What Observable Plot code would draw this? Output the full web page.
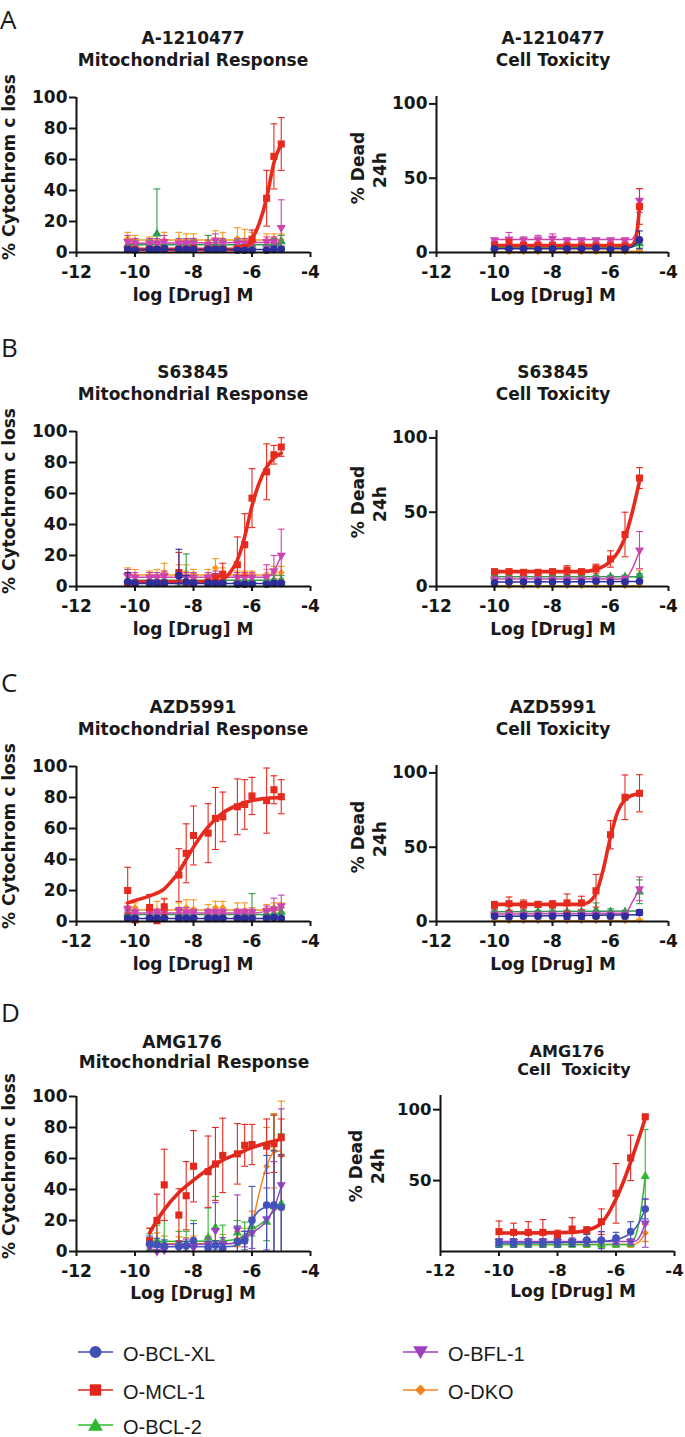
<!DOCTYPE html>
<html><head><meta charset="utf-8">
<script src="https://cdn.jsdelivr.net/npm/d3@7"></script>
<script src="https://cdn.jsdelivr.net/npm/@observablehq/plot@0.6"></script>
<style>
body{margin:0;background:#fff;}
#page{position:relative;width:685px;height:1437px;overflow:hidden;background:#fff;}
#page svg{position:absolute;}
</style></head><body><div id="page"></div>
<script>
// ---------- series & categories ----------
const seriesNames = ["O-BCL-XL","O-MCL-1","O-BCL-2","O-BFL-1","O-DKO"];
const colorsABC = ["#2d2d9c","#e62a1e","#2f9b50","#cc44b0","#f59a1e"];
const colorsD   = ["#4352b8","#e2271c","#2fba2f","#9b42c6","#f5861a"];
const legendColors = ["#4250b0","#e0261c","#30b830","#9c40c0","#f5841c"];
const xTicks = [-12,-10,-8,-6,-4];
const yTicksMito = [0,20,40,60,80,100];
const yTicksTox = [0,50,100];
const yTicksToxD = [50,100];

// log10 concentrations
const concMito  = [-10.25,-10,-9.5,-9.25,-9,-8.5,-8.25,-8,-7.5,-7.25,-7,-6.5,-6.25,-6,-5.5,-5.25,-5];
const concTox   = [-10,-9.5,-9,-8.5,-8,-7.5,-7,-6.5,-6,-5.5,-5];
const concMitoD = [-9.5,-9.25,-9,-8.5,-8.25,-8,-7.5,-7.25,-7,-6.5,-6.25,-6,-5.5,-5.25,-5];

// ---------- A-1210477 : mitochondrial response (order: BCL-XL, MCL-1, BCL-2, BFL-1, DKO) ----------
const A_mito_mean = [
  [2,1.5,2,2,2.5,2,2,2,2,2,2,1.5,1.5,1.5,1.5,2,2],
  [2,2,2,2,2,2,2,2.5,2,2,2,2.5,3,8.5,35,62,70],
  [5,6,5,12,5,4,6,5,5,5,5,5,4,5,5,6,7],
  [7,6,6,6,7,6,6,6,5,8,6,6,6,6,7,7,16],
  [9,8,7,7,8,8,7,8,7,8,8,9,8,7,8,9,8]];
const A_mito_sd = [
  [1,1,1,1,1,1,1,1,1,1,1,1,1,1,1,2,2],
  [1.5,1.5,1.5,1.5,1.5,1.5,1.5,1.5,1.5,1.5,1.5,1.5,2,6,18,21,17],
  [3,3,3,29,3,3,3,3,6,3,3,3,3,3,3,3,4],
  [4,3,3,3,4,3,3,3,3,4,3,3,3,3,3,3,18],
  [4,3,3,5,5,5,5,4,4,6,5,7,7,6,4,3,4]];
const A_mito_fit = [
  [[-10.25,2],[-5,2]],
  [[-10.25,2],[-6.5,2],[-6.25,3],[-6,8.5],[-5.75,19],[-5.5,35],[-5.25,58],[-5,70]],
  [[-10.25,5],[-5,5]],
  [[-10.25,6],[-5,6.5]],
  [[-10.25,8],[-5,8]]];

// ---------- A-1210477 : cell toxicity ----------
const A_tox_mean = [
  [2.5,2.5,2.5,2,2.5,2.5,2.5,3,2,2.5,8.5],
  [5,6.5,5,5,5,4.5,4.5,4.5,4.5,4.5,31],
  [3.5,3.5,3.5,3.5,3.5,3.5,3.5,4.5,3.5,3.5,6],
  [8.5,9,8.5,9,9.5,8.5,8.5,8.5,8.5,8.5,35],
  [0.5,0.5,0.5,0.5,0.5,0.5,0.5,0.5,0.5,0.5,1]];
const A_tox_sd = [
  [0.5,0.5,0.5,0.5,0.5,0.5,0.5,1,0.5,0.5,6],
  [1,2.5,1,1,1,1,1,1,1,1,12],
  [0.5,0.5,0.5,0.5,0.5,0.5,0.5,1,0.5,0.5,3],
  [1,4.5,2,2.5,3,1,1,1,1,1,8],
  [0.3,0.3,0.3,0.3,0.3,0.3,0.3,0.3,0.3,0.3,0.5]];
const A_tox_fit = [
  [[-10,2.5],[-5.5,2.6],[-5.25,4],[-5,8.5]],
  [[-10,4.7],[-5.3,4.7],[-5.15,8],[-5.07,16],[-5,31]],
  [[-10,3.5],[-5.3,3.5],[-5,6]],
  [[-10,8.7],[-5.3,8.7],[-5.15,12],[-5.07,20],[-5,35]],
  [[-10,0.5],[-5,0.8]]];

// ---------- S63845 : mitochondrial response ----------
const B_mito_mean = [
  [3,2,2,2,2,7,3,2,2,2,2,1.5,1.5,1.5,1.5,2,2],
  [2,2,2,2,2,9,2,2,3,5,8,14,27,57,74,85,90],
  [4,4,4,4,4,4,3,4,4,4,4,4,4,4,4,4,4],
  [7,6,6,6,7,6,6,6,6,7,6,6,6,6,6,10,20],
  [8,7,7,7,9,8,9,8,7,12,8,7,8,8,8,9,9]];
const B_mito_sd = [
  [6,2,2,2,2,17,4,2,2,1,1,1,1,1,1,1,1],
  [1,1,1,1,1,13,1,1,1,3,7,18,20,19,18,6,6],
  [3,3,2,2,3,3,18,3,3,3,3,3,3,3,3,3,3],
  [4,3,3,3,3,3,3,3,3,3,3,3,3,3,8,10,17],
  [4,4,3,4,6,6,5,3,4,6,4,3,2,2,3,4,4]];
const B_mito_fit = [
  [[-10.25,2],[-5,2]],
  [[-10.25,3],[-7.25,3],[-7,4.5],[-6.75,9],[-6.5,17],[-6.25,32],[-6,52],[-5.75,67],[-5.5,77],[-5.25,83],[-5,86]],
  [[-10.25,4],[-5,4]],
  [[-10.25,6],[-5.5,6],[-5.25,10],[-5,20]],
  [[-10.25,7.5],[-5,7.5]]];

// ---------- S63845 : cell toxicity ----------
const B_tox_mean = [
  [2.5,3,3,3,3,3,3,3.5,3,3,3.5],
  [10,10,9.5,9.5,10,11,10,12,18.5,35,73],
  [6.5,6.5,6.5,6.5,6.5,6.5,6.5,6.5,6.5,6.5,7.5],
  [5,5,5,5,5,5,5,5,5,5.5,24.5],
  [0.5,0.5,0.5,0.5,0.5,0.5,0.5,1,0.5,0.5,1]];
const B_tox_sd = [
  [1,1,1,1,1,1,1,1,1,1,1],
  [1,1,1,1,1,3,1,3,5.5,15,7],
  [1,1,1,1,1,1,1,1,1,1,1],
  [1,1,1,1,1,1,1,1,1,1,12.5],
  [0.3,0.3,0.3,0.3,0.3,0.3,0.3,12,0.3,0.3,10]];
const B_tox_fit = [
  [[-10,3],[-5,3.3]],
  [[-10,10],[-7,10],[-6.5,11.5],[-6,17],[-5.75,23],[-5.5,33],[-5.25,50],[-5,71]],
  [[-10,6.5],[-5,6.5]],
  [[-10,5],[-5.6,5],[-5.4,7],[-5.2,14],[-5,24]],
  [[-10,0.5],[-5,0.5]]];

// ---------- AZD5991 : mitochondrial response ----------
const C_mito_mean = [
  [2,2,2,2,2,2,2,2,2,2,2,2,2,2,2,2.5,2],
  [20,1,9,0.5,9.5,30,44,55.5,57,66.5,67.5,74,75.5,81,78,85,80.5],
  [5,4,4,4,4,5,4,4,4,5,4,4,5,5,5,5,6],
  [8,6,6,6,6,7,6,6,6,6,6,6,6,6,7,8,10],
  [9,9,7,7,10,8,9,8,7,9,9,7,7,6,8,9,9]];
const C_mito_sd = [
  [1,1,1,1,1,1,1,1,1,1,1,1,1,1,1,1,1],
  [15,1,8.5,1,5,17,19,19,19,20,16,18,16,12,21,9,11],
  [2,2,2,2,2,2,2,2,2,2,2,2,2,13,2,3,3],
  [2,2,2,2,3,2,3,2,2,2,2,2,2,2,3,7,7],
  [3,3,4,6,5,4,5,6,4,4,4,5,5,3,3,3,3]];
const C_mito_fit = [
  [[-10.25,2],[-5,2]],
  [[-10.25,12],[-10,13.5],[-9.5,16.5],[-9,21],[-8.75,26],[-8.5,32],[-8.25,40],[-8,48],[-7.75,55],[-7.5,61],[-7.25,66],[-7,70],[-6.5,75],[-6,78],[-5.5,79.5],[-5,80]],
  [[-10.25,4.5],[-5,4.5]],
  [[-10.25,5.5],[-6,5.5],[-5.5,6.5],[-5,8]],
  [[-10.25,7.5],[-5,7.5]]];

// ---------- AZD5991 : cell toxicity ----------
const C_tox_mean = [
  [3.5,3,3.5,3.5,3.5,3.5,3.5,3.5,3.5,3.5,6],
  [11,12,11.5,11.5,11.5,12.5,12.5,20.7,58.4,83.6,86.3],
  [6.5,6.5,6.5,6.5,6.5,6.5,6.5,7.5,6.5,6.5,20],
  [5,5,5,5,5,5,5,5,5,5,22],
  [0.5,0.5,0.5,0.5,0.5,0.5,0.5,0.5,0.5,0.5,1]];
const C_tox_sd = [
  [1,1,1,1,1,2,2,1,1,1,2],
  [2.5,4.5,3,2,2.5,6,4.5,11,9.5,15,12.5],
  [1,1,1,1,1,1,1,5,2,1,8],
  [1,1,1,1,1,1,1,1,1,1,8],
  [0.5,0.5,0.5,0.5,0.5,0.5,0.5,0.5,0.5,0.5,0.5]];
const C_tox_fit = [
  [[-10,3.5],[-5,4.5]],
  [[-10,11.5],[-7,11.5],[-6.75,13],[-6.5,19],[-6.25,35],[-6,57],[-5.75,74],[-5.5,82],[-5.25,85],[-5,86]],
  [[-10,6.5],[-5,7]],
  [[-10,5],[-5.5,5.5],[-5.25,13],[-5,22]],
  [[-10,0.5],[-5,0.5]]];

// ---------- AMG176 : mitochondrial response ----------
const D_mito_mean = [
  [5,4.5,3.5,3,3.5,7,2.5,4,2,6.5,7,20,30,30,28.5],
  [7,20,43,23.5,36,55,51.5,56.5,62,63,68.5,69,68,69.5,73.5],
  [1.5,7,5,5,5,6,9,15.5,7,12,9,16,19,29,31],
  [3,0,1,3,4,2.5,5,13.5,5,14.5,8,12,21,28,43],
  [5,5,5,4.5,4,5,5,5,6,8,10,21,55,65,62]];
const D_mito_sd = [
  [5,4,4,3,3,11,4,3,3,10,6,22,32,35,34],
  [8,17,23,17,22,23,23,23.5,24,19.5,13.5,13,17.5,18.5,12],
  [10,10,15,8,8,14,19,20,10,8,10,6,12,59,45],
  [3,3,3,4,4,4,4,18,4,22,5,10,20,30,49],
  [10,7,5,5,5,5,5,10,5,5,5,5,25,24,35]];
const D_mito_fit = [
  [[-9.5,3],[-6.75,3.2],[-6.5,4],[-6.25,8],[-6,20],[-5.75,26.5],[-5.5,28.5],[-5,29]],
  [[-9.5,12],[-9.25,20],[-9,27],[-8.5,38],[-8,46],[-7.5,53],[-7,59],[-6.5,63],[-6,67],[-5.5,70],[-5,72.5]],
  [[-9.5,6.5],[-7,6.8],[-6.5,8],[-6,14],[-5.5,21],[-5.25,26],[-5,31]],
  [[-9.5,4.5],[-6.75,5],[-6.5,6.5],[-6.25,9],[-6,12],[-5.5,20],[-5.25,28],[-5,42]],
  [[-9.5,5],[-6.5,5.2],[-6.25,8],[-6,18],[-5.75,38],[-5.5,55],[-5.25,64],[-5,65]]];

// ---------- AMG176 : cell toxicity ----------
const D_tox_mean = [
  [6,6,6,6,6,6.5,8,8,9.5,14,30],
  [14,13.5,13.5,13.5,12,15.8,15,21,41,66,95],
  [5,5,5,5,5,5,5,5,5,5.5,53],
  [7,7,7,7,7,7,7,7,7,7,20],
  [5,5,5,5,5,5,5,5,5,5,13]];
const D_tox_sd = [
  [3,3,3,3,3,3,4,6,4,7,7],
  [7.5,6.5,7.5,9,3,8,2.5,9,21,16,1],
  [2,2,2,2,2,2,2,2,2,2,33],
  [2,2,2,2,2,2,2,7,2,2,17],
  [2,2,2,2,2,2,2,2,2,2,6]];
const D_tox_fit = [
  [[-10,6],[-7,6.5],[-6.5,7],[-6,8.5],[-5.5,13],[-5.25,19],[-5,30]],
  [[-10,13],[-7.5,13.5],[-7,15],[-6.5,20],[-6,37],[-5.75,49],[-5.5,63],[-5.25,78],[-5,94]],
  [[-10,5],[-5.6,5],[-5.4,8],[-5.2,22],[-5,53]],
  [[-10,7],[-5.4,7],[-5.2,10],[-5,20]],
  [[-10,5],[-5.4,5],[-5.2,7],[-5,13]]];

// ---------- drawing ----------
const page = document.getElementById("page");
const capSymbol = {draw(ctx, size){ const r = Math.sqrt(size/Math.PI); ctx.moveTo(-r,0); ctx.lineTo(r,0); }};
const symbols = ["circle","square","triangle","triangle","diamond2"];
const rotations = [0,0,0,180,0];
const radii = [3.8,4,3.4,3.4,3.2];
const drawOrder = [4,2,3,1,0];
const FONT = "'DejaVu Sans', sans-serif";

function makePanel(p) {
  const marks = [];
  for (const i of drawOrder) {
    const c = p.colors[i];
    const rows = p.x.map((xv, j) => ({
      x: xv, y: p.mean[i][j],
      lo: Math.max(0, p.mean[i][j] - p.sd[i][j]),
      hi: p.mean[i][j] + p.sd[i][j]
    }));
    marks.push(Plot.ruleX(rows, {x: "x", y1: "lo", y2: "hi", stroke: c, strokeWidth: 1.1, clip: true}));
    marks.push(Plot.dot(rows, {x: "x", y: "hi", symbol: capSymbol, r: 3.4, stroke: c, fill: "none", strokeWidth: 1.1, clip: true}));
    marks.push(Plot.dot(rows.filter(d => d.lo > 0), {x: "x", y: "lo", symbol: capSymbol, r: 3.4, stroke: c, fill: "none", strokeWidth: 1.1, clip: true}));
    marks.push(Plot.line(p.fit[i], {x: d => d[0], y: d => d[1], stroke: c, strokeWidth: i === 1 ? 3.6 : 1.5, curve: "monotone-x"}));
    marks.push(Plot.dot(rows, {x: "x", y: "y", symbol: symbols[i], rotate: rotations[i], r: radii[i], fill: c, stroke: "none"}));
  }
  marks.push(Plot.ruleY([0], {strokeWidth: 2, stroke: "#111"}));
  marks.push(Plot.ruleX([-12], {y1: 0, y2: p.yMax, strokeWidth: 2, stroke: "#111"}));
  marks.push(Plot.axisX({ticks: xTicks, tickFormat: d => String(d), tickSize: 5, tickPadding: 8, strokeWidth: 2, label: null}));
  marks.push(Plot.axisY({ticks: p.yTicks, tickFormat: d => String(d), tickSize: 7, tickPadding: 2, strokeWidth: 2, label: null}));
  const svg = Plot.plot({
    width: p.width, height: p.inner + 17 + 40,
    marginLeft: p.ml, marginRight: p.mr, marginTop: 17, marginBottom: 40,
    x: {domain: [-12, -4]},
    y: {domain: [0, p.yMax]},
    style: {fontFamily: FONT, fontSize: p.fs || "17px", fontWeight: "bold", color: "#161616", background: "transparent", overflow: "visible"},
    marks
  });
  svg.style.left = p.left + "px";
  svg.style.top = (p.y0 - p.inner - 17) + "px";
  page.appendChild(svg);
}

const rowsY0 = [252, 586, 921, 1251];
const L = {left: 0, width: 340, ml: 76, mr: 30, inner: 155, yMax: 100, yTicks: yTicksMito};
const R = {left: 340, width: 345, ml: 96, mr: 17, inner: 156, yMax: 105, yTicks: yTicksTox};
makePanel({...L, y0: rowsY0[0], x: concMito, mean: A_mito_mean, sd: A_mito_sd, fit: A_mito_fit, colors: colorsABC});
makePanel({...R, y0: rowsY0[0], x: concTox, mean: A_tox_mean, sd: A_tox_sd, fit: A_tox_fit, colors: colorsABC});
makePanel({...L, y0: rowsY0[1], x: concMito, mean: B_mito_mean, sd: B_mito_sd, fit: B_mito_fit, colors: colorsABC});
makePanel({...R, y0: rowsY0[1], x: concTox, mean: B_tox_mean, sd: B_tox_sd, fit: B_tox_fit, colors: colorsABC});
makePanel({...L, y0: rowsY0[2], x: concMito, mean: C_mito_mean, sd: C_mito_sd, fit: C_mito_fit, colors: colorsABC});
makePanel({...R, y0: rowsY0[2], x: concTox, mean: C_tox_mean, sd: C_tox_sd, fit: C_tox_fit, colors: colorsABC});
makePanel({...L, y0: rowsY0[3], x: concMitoD, mean: D_mito_mean, sd: D_mito_sd, fit: D_mito_fit, colors: colorsD});
makePanel({...R, ml: 100, mr: 11, yMax: 110, yTicks: yTicksToxD, fs: "16.5px", y0: rowsY0[3], x: concTox, mean: D_tox_mean, sd: D_tox_sd, fit: D_tox_fit, colors: colorsD});

// ---------- text overlay & legend ----------
const ov = d3.create("svg").attr("width", 685).attr("height", 1437)
  .style("left", "0px").style("top", "0px").style("pointer-events", "none");
const ink = "#1a1a1a";
function txt(s, x, y, o = {}) {
  const t = ov.append("text").attr("x", x).attr("y", y).text(s)
    .attr("fill", ink).attr("font-family", o.family || FONT)
    .attr("font-size", o.size || 17).attr("font-weight", o.weight || "bold")
    .attr("text-anchor", o.anchor || "middle").style("white-space", "pre");
  if (o.rot) t.attr("transform", `rotate(-90 ${x} ${y})`);
  return t;
}
// panel letters
[["A",0,28.5],["B",1,357],["C",1,692],["D",1,1022]].forEach(([s,x,y]) =>
  txt(s, x, y, {family: "'Open Sans', sans-serif", size: 26, weight: 400, anchor: "start"}));

const drugs = ["A-1210477","S63845","AZD5991"];
rowsY0.slice(0,3).forEach((y0, k) => {
  txt(drugs[k], 193, y0 - 208.5);
  txt("Mitochondrial Response", 193, y0 - 186.5);
  txt(drugs[k], 553, y0 - 208.5);
  txt("Cell Toxicity", 553, y0 - 186.5);
  txt("log [Drug] M", 193, y0 + 49);
  txt("Log [Drug] M", 553, y0 + 49);
  txt("% Cytochrom c loss", 14.5, y0 - 85, {rot: true});
  txt("% Dead", 364, y0 - 84, {rot: true});
  txt("24h", 386, y0 - 82, {rot: true});
});
const yD = rowsY0[3];
txt("AMG176", 182, yD - 203);
txt("Mitochondrial Response", 194, yD - 183);
txt("AMG176", 567, yD - 194, {size: 16});
txt("Cell  Toxicity", 574, yD - 176, {size: 16});
txt("Log [Drug] M", 193, yD + 48);
txt("Log [Drug] M", 573, yD + 46);
txt("% Cytochrom c loss", 14.5, yD - 85, {rot: true});
txt("% Dead", 362, yD - 85, {rot: true});
txt("24h", 384, yD - 85, {rot: true});

// legend
const legendPos = [[95.5,1352],[95.5,1390],[95.5,1425],[420.5,1352],[420.5,1390]];
const legendSym = [d3.symbolCircle, d3.symbolSquare, d3.symbolTriangle, d3.symbolTriangle, d3.symbolDiamond2];
const legendSize = [113, 130, 95, 95, 75];
seriesNames.forEach((name, i) => {
  const [cx, cy] = legendPos[i];
  const c = legendColors[i];
  ov.append("line").attr("x1", cx - 17.5).attr("x2", cx + 17.5).attr("y1", cy).attr("y2", cy)
    .attr("stroke", c).attr("stroke-width", 1.6);
  ov.append("path").attr("d", d3.symbol(legendSym[i], legendSize[i])())
    .attr("transform", `translate(${cx},${cy + (i===2 ? 1.5 : i===3 ? -1.5 : 0)}) rotate(${i===3 ? 180 : 0})`)
    .attr("fill", c);
  txt(name, cx + 27.5, cy + 9, {family: "'Liberation Sans', Arial, sans-serif", size: 20, weight: 400, anchor: "start"});
});
page.appendChild(ov.node());
</script>
</body></html>
